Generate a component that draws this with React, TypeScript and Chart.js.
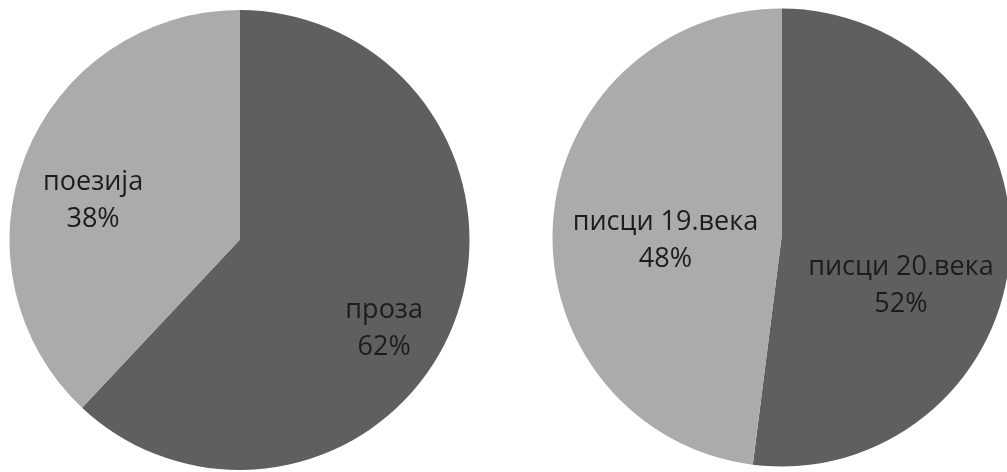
import React, { useEffect, useRef } from "react";
import { Chart, registerables } from "chart.js";

Chart.register(...registerables);

// Left pie
const genreLabels = ["проза", "поезија"];
const genreValues = [62, 38];
// Right pie
const eraLabels = ["писци 20.века", "писци 19.века"];
const eraValues = [52, 48];

const sliceColors = ["#5f5f5f", "#ababab"];

// label placement style (radial fraction and angular shift in degrees per slice)
const genreLabelFrac = [0.736, 0.66];
const genreLabelShift = [9.7, -6.3];
const eraLabelFrac = [0.562, 0.507];
const eraLabelShift = [18.3, -4.8];

const W = 1007;
const H = 472;

function makeLabelPlugin(labels: string[], fracs: number[], shifts: number[]) {
  return {
    id: "sliceLabels",
    afterDatasetsDraw(chart: any) {
      const ctx = chart.ctx;
      const meta = chart.getDatasetMeta(0);
      const data = chart.data.datasets[0].data as number[];
      const total = data.reduce((a, b) => a + b, 0);
      ctx.save();
      ctx.font = "27px 'Open Sans', 'DejaVu Sans', sans-serif";
      ctx.fillStyle = "#1c1c1c";
      ctx.textAlign = "center";
      ctx.textBaseline = "middle";
      meta.data.forEach((arc: any, i: number) => {
        const p = arc.getProps(["x", "y", "startAngle", "endAngle", "outerRadius"], true);
        const mid = (p.startAngle + p.endAngle) / 2 + (shifts[i] * Math.PI) / 180;
        const r = p.outerRadius * fracs[i];
        const cx = p.x + Math.cos(mid) * r;
        const cy = p.y + Math.sin(mid) * r;
        const pct = Math.round((data[i] / total) * 100) + "%";
        ctx.fillText(labels[i], cx, cy - 18);
        ctx.fillText(pct, cx, cy + 19);
      });
      ctx.restore();
    },
  };
}

function PieCanvas(props: {
  labels: string[];
  values: number[];
  radius: number;
  padding: { left: number; right: number; top: number; bottom: number };
  fracs: number[];
  shifts: number[];
}) {
  const ref = useRef<HTMLCanvasElement | null>(null);
  useEffect(() => {
    if (!ref.current) return;
    const chart = new Chart(ref.current, {
      type: "pie",
      data: {
        labels: props.labels,
        datasets: [
          {
            data: props.values,
            backgroundColor: sliceColors,
            borderWidth: 0,
            hoverOffset: 0,
            clip: false as any,
          } as any,
        ],
      },
      options: {
        responsive: false,
        animation: false,
        radius: props.radius,
        layout: { padding: props.padding },
        plugins: {
          legend: { display: false },
          tooltip: { enabled: false },
        },
        events: [],
      } as any,
      plugins: [makeLabelPlugin(props.labels, props.fracs, props.shifts)],
    });
    return () => chart.destroy();
  }, []);
  return (
    <canvas
      ref={ref}
      width={W}
      height={H}
      style={{ position: "absolute", left: 0, top: 0, width: W, height: H }}
    />
  );
}

export default function App() {
  return (
    <div
      style={{
        position: "fixed",
        left: 0,
        top: 0,
        width: W,
        height: H,
        background: "#ffffff",
        overflow: "hidden",
      }}
    >
      <PieCanvas
        labels={genreLabels}
        values={genreValues}
        radius={230}
        padding={{ left: 0, right: 528, top: 10, bottom: 2 }}
        fracs={genreLabelFrac}
        shifts={genreLabelShift}
      />
      <PieCanvas
        labels={eraLabels}
        values={eraValues}
        radius={229}
        padding={{ left: 556, right: 0, top: 3, bottom: 0 }}
        fracs={eraLabelFrac}
        shifts={eraLabelShift}
      />
    </div>
  );
}
